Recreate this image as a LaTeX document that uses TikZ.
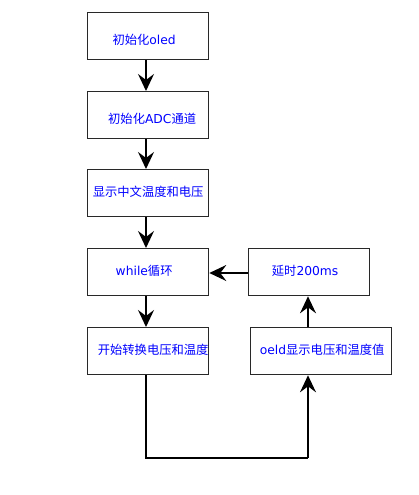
\documentclass[tikz,border=0pt]{standalone}
\usepackage{fontspec}
\setmainfont{DejaVu Sans}
\newfontfamily\cjk{Noto Sans CJK SC}
\usetikzlibrary{arrows.meta}
\definecolor{txtblue}{RGB}{0,0,255}
\definecolor{edge}{RGB}{40,40,40}
\begin{document}
\begin{tikzpicture}[x=1pt,y=-1pt,
  flowbox/.style={draw=edge,line width=1.3pt,minimum width=121pt,minimum height=47pt,inner sep=0pt,anchor=north west},
  lbl/.style={text=txtblue,font=\fontsize{12.3pt}{14pt}\selectfont,inner sep=0pt},
  conn/.style={line width=1.3pt,draw=black,-{Stealth[length=17pt,width=16pt,inset=6pt]}},
  plain/.style={line width=1.3pt,draw=black}]
\useasboundingbox (0,0) rectangle (418,495);
\node[flowbox] (b1) at (87,12) {};
\node[flowbox] (b2) at (87,91) {};
\node[flowbox] (b3) at (87,169) {};
\node[flowbox] (b4) at (87,248) {};
\node[flowbox] (b5) at (87,327) {};
\node[flowbox] (b6) at (248,248) {};
\node[flowbox,minimum width=141pt] (b7) at (250,327) {};
\node[lbl] (t1) at ([xshift=-4pt,yshift=-4pt]b1.center) {{\cjk 初始化}oled};
\node[lbl] (t2) at ([xshift=4pt,yshift=-4pt]b2.center) {{\cjk 初始化}ADC{\cjk 通道}};
\node[lbl] (t3) at ([xshift=0pt,yshift=1pt]b3.center) {\cjk 显示中文温度和电压};
\node[lbl] (t4) at ([xshift=-4pt,yshift=1pt]b4.center) {while{\cjk 循环}};
\node[lbl] (t5) at ([xshift=5pt,yshift=1pt]b5.center) {\cjk 开始转换电压和温度};
\node[lbl] (t6) at ([xshift=-4pt,yshift=1pt]b6.center) {{\cjk 延时}200ms};
\node[lbl] (t7) at ([xshift=1pt,yshift=1pt]b7.center) {oeld{\cjk 显示电压和温度值}};
\coordinate (c1) at (146,458);
\coordinate (c2) at (308,458);
\draw[conn] (b1.south -| 146,0) -- (b2.north -| 146,0);
\draw[conn] (b2.south -| 146,0) -- (b3.north -| 146,0);
\draw[conn] (b3.south -| 146,0) -- (b4.north -| 146,0);
\draw[conn] (b4.south -| 146,0) -- (b5.north -| 146,0);
\draw[plain] (b5.south -| 146,0) -- (c1) -- (c2);
\draw[conn] (c2) -- (b7.south -| 308,0);
\draw[conn] (b7.north -| 308,0) -- (b6.south -| 308,0);
\draw[conn] (b6.west |- 0,273) -- (b4.east |- 0,273);
\end{tikzpicture}
\end{document}
